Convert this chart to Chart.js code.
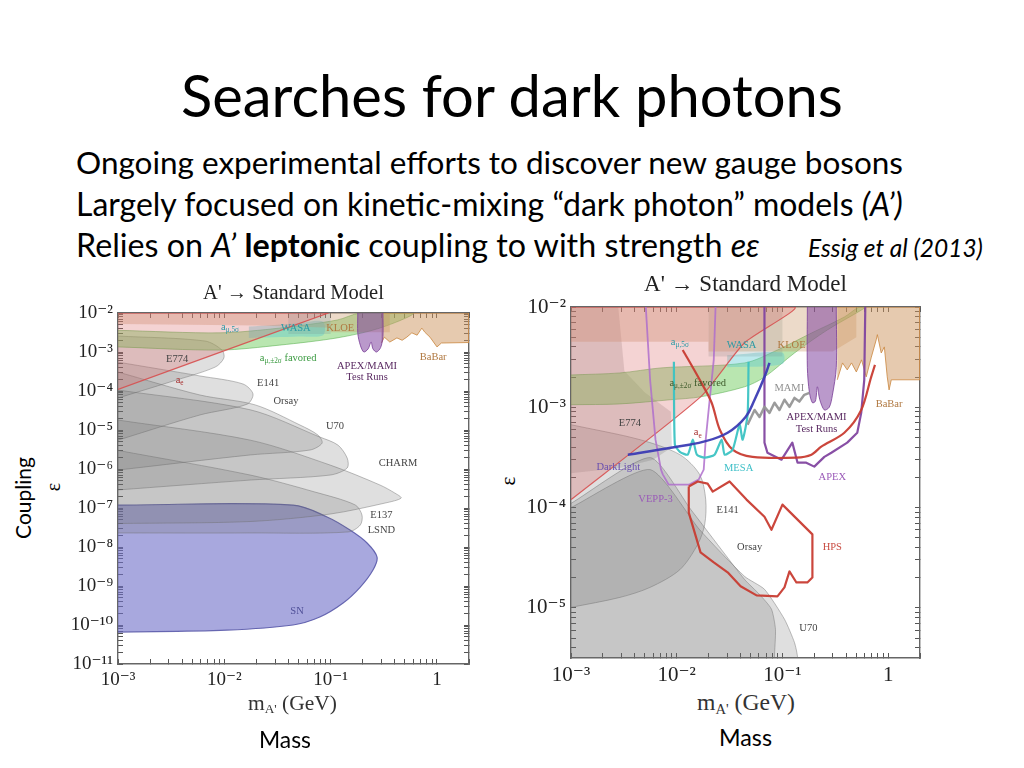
<!DOCTYPE html>
<html>
<head>
<meta charset="utf-8">
<script src="https://cdn.jsdelivr.net/npm/chart.js@4.4.0/dist/chart.umd.min.js"></script>
<style>
  body { margin: 0; width: 1024px; height: 768px; background: #fff; position: relative; overflow: hidden; font-family: Lato, 'Open Sans', sans-serif; color: #000; }
  .t { position: absolute; white-space: nowrap; line-height: 1.2; }
  .ax { position: absolute; white-space: nowrap; line-height: 1.2; font-family: 'Liberation Serif', serif; color: #333; }
  .ax sub { font-size: 0.62em; vertical-align: -0.25em; }
  .rot { position: absolute; white-space: nowrap; transform: translate(-50%, -50%) rotate(-90deg); }
  canvas { position: absolute; }
</style>
</head>
<body>
<div class="t" id="title">Searches for dark photons</div>
<div class="t" id="l1">Ongoing experimental efforts to discover new gauge bosons</div>
<div class="t" id="l2">Largely focused on kinetic-mixing “dark photon” models <i>(A’)</i></div>
<div class="t" id="l3">Relies on <i>A’</i> <b>leptonic</b> coupling to with strength <i>eε</i></div>
<div class="t" id="cite"><i>Essig et al (2013)</i></div>

<div class="rot" style="left:22px; top:498px; font-size:21px;">Coupling</div>
<div class="rot" style="left:53px; top:487px; font-size:20px; font-family:'Liberation Serif',serif;">ε</div>
<div class="rot" style="left:508px; top:481px; font-size:21px; font-family:'Liberation Serif',serif;">ε</div>

<canvas id="leftChart" width="420" height="425" style="left:60px; top:270px;"></canvas>
<canvas id="rightChart" width="420" height="425" style="left:510px; top:262px;"></canvas>

<div class="ax" id="xl">m<sub>A'</sub> (GeV)</div>
<div class="ax" id="xr">m<sub>A'</sub> (GeV)</div>
<div class="t" id="massL">Mass</div>
<div class="t" id="massR">Mass</div>

<script>
// axis ranges (GeV, epsilon)
const leftX = [1e-3, 2];
const leftY = [1e-11, 1e-2];
const rightX = [1e-3, 2];
const rightY = [3.16e-6, 1e-2];

// ---------- left plot: regions as [mass, epsilon] ----------
const L_ae = [[1e-3,1.1e-4],[0.0102,1.1e-3],[0.095,1e-2],[1e-3,1e-2]];
const L_topTan = [[1e-3,1e-2],[0.1,1e-2],[0.1,4.2e-3],[0.02,4.8e-3],[1e-3,5.2e-3]];
const L_kloe = [[0.1,1e-2],[0.36,1e-2],[0.36,3.2e-3],[0.1,3.2e-3]];
const L_wasa = [[0.04,1e-2],[0.1,1e-2],[0.1,2.9e-3],[0.04,2.9e-3]];
const L_babar = [[0.3,1e-2],[2,1e-2],[2,1.75e-3],[1.1,1.7e-3],[1.0,1.35e-3],[0.86,2.4e-3],[0.77,3.2e-3],[0.72,4.1e-3],[0.65,2.7e-3],[0.58,3.1e-3],[0.52,2.4e-3],[0.47,2.0e-3],[0.42,2.3e-3],[0.36,1.8e-3],[0.32,2.4e-3],[0.30,1.7e-3]];
const L_amuFav = [[1e-3,1.35e-3],[9.1e-3,1.12e-3],[0.033,1.5e-3],[0.115,2.3e-3],[0.29,4.1e-3],[0.6,1e-2],[0.19,1e-2],[0.115,6.6e-3],[0.033,4.1e-3],[9.1e-3,3.1e-3],[1e-3,3.6e-3]];
const L_amu5 = [[0.017,4.5e-3],[0.05,5.5e-3],[0.085,6e-3],[0.085,2.7e-3],[0.05,2.5e-3],[0.017,2.3e-3]];
const L_apexTest = [[0.18,1e-2],[0.18,3e-3],[0.19,1.5e-3],[0.205,1.0e-3],[0.225,1.2e-3],[0.24,1.8e-3],[0.25,1.2e-3],[0.27,1.0e-3],[0.295,1.3e-3],[0.31,2.5e-3],[0.31,1e-2]];
const L_e774 = [[1e-3,2.57e-3],[6.6e-3,1.91e-3],[9.5e-3,1.12e-3],[9.9e-3,7.0e-4],[8.2e-3,4.1e-4],[3.08e-3,1.7e-4],[1e-3,6.6e-5]];
const L_e141 = [[1e-3,5.5e-4],[5.9e-3,2.43e-4],[0.015,1.51e-4],[0.0186,8.4e-5],[0.0164,4.6e-5],[5.9e-3,2.43e-5],[1e-3,5.5e-6]];
const L_orsay = [[1e-3,3.07e-4],[5.9e-3,7.9e-5],[0.0195,4.4e-5],[0.0515,1.34e-5],[0.076,7.4e-6],[0.083,4.6e-6],[0.064,3.07e-6],[0.0175,2.29e-6],[1e-3,9.4e-7]];
const L_u70 = [[1e-3,1.06e-4],[0.0175,3.3e-5],[0.079,6.6e-6],[0.117,4.1e-6],[0.143,1.91e-6],[0.143,1.06e-6],[0.099,7.0e-7],[0.0175,5.2e-7],[1e-3,2.9e-7]];
const L_charm = [[1e-3,1.8e-5],[0.0175,5.5e-6],[0.099,1.26e-6],[0.29,3.9e-7],[0.40,2.43e-7],[0.46,1.8e-7],[0.325,1.34e-7],[0.099,7.0e-8],[0.0175,4.5e-8],[1e-3,4e-8]];
const L_e137 = [[1e-3,3.0e-6],[0.0175,7e-7],[0.07,2.6e-7],[0.17,1.2e-7],[0.197,6.6e-8],[0.19,3.66e-8],[0.146,2.43e-8],[0.0175,2.29e-8],[1e-3,2.29e-8]];
const L_sn = [[1e-3,1.19e-7],[0.0443,1.19e-7],[0.0925,5.9e-8],[0.152,2.73e-8],[0.22,1.27e-8],[0.273,5.5e-9],[0.25,2.57e-9],[0.19,9.4e-10],[0.131,3.66e-10],[0.079,1.6e-10],[0.0443,1.0e-10],[0.0106,7.4e-11],[1e-3,6.6e-11]];

// ---------- right plot: regions and projected reaches ----------
const R_ae = [[1e-3,1.2e-4],[0.0168,1.27e-3],[0.0438,4.4e-3],[0.13,1e-2],[1e-3,1e-2]];
const R_topTan = [[1e-3,1e-2],[0.02,1e-2],[0.02,4.5e-3],[1e-3,4.5e-3]];
const R_kloe = [[0.02,1e-2],[0.5,1e-2],[0.5,5e-3],[0.3,3.6e-3],[0.02,3.6e-3]];
const R_wasa = [[0.02,1e-2],[0.1,1e-2],[0.1,3.2e-3],[0.02,3.2e-3]];
const R_babar = [[0.33,1e-2],[2,1e-2],[2,1.88e-3],[1.07,1.88e-3],[1.02,1.49e-3],[0.98,2.01e-3],[0.92,4.0e-3],[0.86,3.48e-3],[0.79,5.3e-3],[0.77,4.7e-3],[0.69,3.11e-3],[0.62,2.01e-3],[0.56,2.97e-3],[0.50,2.25e-3],[0.45,2.77e-3],[0.41,2.36e-3],[0.37,2.77e-3],[0.33,1.88e-3]];
const R_amuFav = [[1e-3,1.06e-3],[2.9e-3,1.08e-3],[8.8e-3,1.19e-3],[0.0168,1.27e-3],[0.0438,1.6e-3],[0.0676,2.0e-3],[0.13,3.48e-3],[0.266,5.9e-3],[0.556,9.3e-3],[0.607,1e-2],[0.53,1e-2],[0.385,7.95e-3],[0.188,5.5e-3],[0.0897,3.73e-3],[0.0438,2.77e-3],[7.1e-3,2.47e-3],[2.9e-3,2.2e-3],[1e-3,2.1e-3]];
const R_amu5 = [[0.03,3.3e-3],[0.1,3.5e-3],[0.1,2.7e-3],[0.03,2.5e-3]];
const R_apexTest = [[0.172,1e-2],[0.172,2.5e-3],[0.18,1.4e-3],[0.192,1.11e-3],[0.205,1.15e-3],[0.214,1.6e-3],[0.225,1.2e-3],[0.249,9.4e-4],[0.277,1.0e-3],[0.296,1.3e-3],[0.323,2.5e-3],[0.323,1e-2]];
const R_e774 = [[1e-3,1e-2],[2.8e-3,1e-2],[3.2e-3,2.3e-3],[5e-3,1.4e-3],[8.8e-3,9e-4],[9e-3,4e-4],[6e-3,3e-4],[3e-3,2.5e-4],[1e-3,2.2e-4]];
const R_e141 = [[1e-3,6.7e-4],[4.5e-3,4.75e-4],[0.0107,3.37e-4],[0.0165,2.13e-4],[0.0188,1.2e-4],[0.0184,6.8e-5],[0.0158,4.3e-5],[0.0107,2.4e-5],[5.6e-3,1.6e-5],[2.9e-3,1.27e-5],[1e-3,1.01e-5]];
const R_orsay = [[1e-3,1.1e-4],[5.6e-3,3.15e-4],[0.0136,9.55e-5],[0.0438,1.92e-5],[0.0607,1.36e-5],[0.0787,9.7e-6],[0.0859,6.1e-6],[0.084,3.2e-6],[0.084,1e-6],[1e-3,1e-6]];
const R_u70 = [[1e-3,1.0e-4],[5.6e-3,2.39e-4],[0.0165,6.0e-5],[0.0438,2.06e-5],[0.0676,1.53e-5],[0.1045,7.7e-6],[0.13,4.5e-6],[0.139,3.2e-6],[0.139,1e-6],[1e-3,1e-6]];
const R_mami = [[0.0468,6.7e-4],[0.0545,9.4e-4],[0.0607,8.0e-4],[0.0676,1.01e-3],[0.0754,8.8e-4],[0.0841,1.11e-3],[0.0937,9.4e-4],[0.1045,1.19e-3],[0.1165,1.01e-3],[0.13,1.24e-3],[0.1445,1.14e-3],[0.161,1.33e-3],[0.18,1.39e-3]];
const R_darkLight = [[3.45e-3,3.37e-4],[8.8e-3,3.95e-4],[0.018,4.54e-4],[0.0303,5.57e-4],[0.0448,8.0e-4],[0.0545,1.19e-3],[0.0676,2.0e-3],[0.0754,2.77e-3]];
const R_mesa = [[9.4e-3,2.84e-3],[9.6e-3,4.24e-4],[0.0107,3.6e-4],[0.0127,3.37e-4],[0.0142,4.75e-4],[0.0155,3.37e-4],[0.0184,3.15e-4],[0.0228,3.37e-4],[0.0266,4.75e-4],[0.0284,3.37e-4],[0.0338,3.78e-4],[0.0393,6.7e-4],[0.042,4.75e-4],[0.0468,8.4e-4],[0.0478,2.84e-3]];
const R_hpsUpper = [[0.0114,3.73e-3],[0.0165,1.88e-3],[0.0214,1.11e-3],[0.0255,6.0e-4],[0.0338,3.78e-4],[0.0521,3.2e-4],[0.1355,3.15e-4],[0.188,3.37e-4],[0.233,4.05e-4],[0.385,5.57e-4],[0.556,9.4e-4],[0.69,2.0e-3],[0.75,2.65e-3]];
const R_hpsLower = [[0.013,1.62e-4],[0.0158,1.82e-4],[0.0196,1.73e-4],[0.0219,1.44e-4],[0.0316,1.82e-4],[0.0457,1.2e-4],[0.0676,8.1e-5],[0.0787,6.0e-5],[0.1,1.07e-4],[0.192,5.4e-5],[0.192,2.01e-5],[0.172,1.79e-5],[0.1355,1.79e-5],[0.1165,2.31e-5],[0.1045,1.6e-5],[0.0897,1.3e-5],[0.0569,1.33e-5],[0.0402,1.64e-5],[0.0303,2.26e-5],[0.0224,2.84e-5],[0.0168,3.57e-5],[0.013,8.9e-5],[0.013,1.62e-4]];
const R_apex = [[0.0676,1e-2],[0.0676,4.44e-4],[0.0721,3.52e-4],[0.098,3.0e-4],[0.124,4.44e-4],[0.139,2.8e-4],[0.168,2.8e-4],[0.2,2.56e-4],[0.249,3.2e-4],[0.29,3.52e-4],[0.41,4.44e-4],[0.51,5.57e-4],[0.556,8.8e-4],[0.594,1.88e-3],[0.607,9.3e-3],[0.607,1e-2]];
const R_vepp3 = [[5.1e-3,1e-2],[5.6e-3,1.88e-3],[6.3e-3,4.75e-4],[7.1e-3,2.39e-4],[7.4e-3,2.13e-4],[8.4e-3,1.69e-4],[0.013,1.69e-4],[0.0161,1.9e-4],[0.018,2.39e-4],[0.0188,4.75e-4],[0.0205,1.19e-3],[0.0224,2.97e-3],[0.0233,1e-2]];

// region labels: text, mass, epsilon, colour kind
const leftLabels = [
  {text:'a', sub:'μ,5σ', m:0.0113, eps:4.4e-3, kind:'teal'},
  {text:'WASA', m:0.047, eps:4.1e-3, kind:'teal'},
  {text:'KLOE', m:0.123, eps:4.1e-3, kind:'brown'},
  {text:'a', sub:'μ,±2σ', after:' favored', m:0.0398, eps:7e-4, kind:'green'},
  {text:'E774', m:3.6e-3, eps:6.6e-4, kind:'gray'},
  {text:'a', sub:'e', m:3.8e-3, eps:1.9e-4, kind:'red'},
  {text:'E141', m:0.0258, eps:1.6e-4, kind:'gray'},
  {text:'Orsay', m:0.038, eps:5.5e-5, kind:'gray'},
  {text:'U70', m:0.11, eps:1.26e-5, kind:'gray'},
  {text:'APEX/MAMI', m:0.22, eps:4.4e-4, kind:'purple'},
  {text:'Test Runs', m:0.22, eps:2.3e-4, kind:'purple'},
  {text:'BaBar', m:0.92, eps:7.4e-4, kind:'brown'},
  {text:'CHARM', m:0.43, eps:1.43e-6, kind:'gray'},
  {text:'E137', m:0.3, eps:6.6e-8, kind:'gray'},
  {text:'LSND', m:0.3, eps:2.7e-8, kind:'gray'},
  {text:'SN', m:0.0483, eps:2.3e-10, kind:'blue'}
];
const rightLabels = [
  {text:'a', sub:'μ,5σ', m:0.0107, eps:4.5e-3, kind:'teal'},
  {text:'WASA', m:0.041, eps:4.2e-3, kind:'teal'},
  {text:'KLOE', m:0.122, eps:4.2e-3, kind:'brown'},
  {text:'a', sub:'μ,±2σ', after:' favored', m:0.0158, eps:1.75e-3, kind:'dkgreen'},
  {text:'MAMI', m:0.116, eps:1.56e-3, kind:'mgray'},
  {text:'BaBar', m:1.02, eps:1.06e-3, kind:'brown'},
  {text:'E774', m:3.6e-3, eps:7e-4, kind:'gray'},
  {text:'a', sub:'e', m:0.0158, eps:5.6e-4, kind:'red'},
  {text:'APEX/MAMI', m:0.21, eps:7.9e-4, kind:'purple'},
  {text:'Test Runs', m:0.21, eps:6e-4, kind:'purple'},
  {text:'DarkLight', m:2.8e-3, eps:2.5e-4, kind:'dlblue'},
  {text:'MESA', m:0.0385, eps:2.44e-4, kind:'cyan'},
  {text:'APEX', m:0.296, eps:2.0e-4, kind:'violet'},
  {text:'VEPP-3', m:6.3e-3, eps:1.2e-4, kind:'violet'},
  {text:'E141', m:0.0303, eps:9.5e-5, kind:'gray'},
  {text:'Orsay', m:0.0489, eps:4.0e-5, kind:'gray'},
  {text:'HPS', m:0.296, eps:4.0e-5, kind:'hps'},
  {text:'U70', m:0.176, eps:6.25e-6, kind:'gray'}
];

const labelColors = {
  gray: '#444', teal: '#2a9aa5', brown: '#b07840', green: '#3a9a40', dkgreen: '#3d5a2a',
  purple: '#5a2a62', violet: '#9a5ab8', blue: '#505098', dlblue: '#6a50b0', red: '#a83030',
  hps: '#c84a40', cyan: '#40c0c8', mgray: '#909090'
};

const GRAY = 'rgba(110,110,110,0.22)';
const GRAY_EDGE = 'rgba(110,110,110,0.45)';
const NONE = 'rgba(0,0,0,0)';

function pts(arr) { return arr.map(([x, y]) => ({ x, y })); }

function region(arr, fillColor, edge, width, tension, order) {
  return { data: pts(arr), fill: 'shape', backgroundColor: fillColor, borderColor: edge, borderWidth: width,
           tension: tension, pointRadius: 0, pointHoverRadius: 0, order: order };
}
function curve(arr, color, width, tension, order) {
  return { data: pts(arr), fill: false, borderColor: color, borderWidth: width, tension: tension,
           pointRadius: 0, pointHoverRadius: 0, order: order, borderJoinStyle: 'round' };
}

const supDigits = { '-': '⁻', '0': '⁰', '1': '¹', '2': '²', '3': '³', '4': '⁴', '5': '⁵', '6': '⁶', '7': '⁷', '8': '⁸', '9': '⁹' };
function decadeLabel(v) {
  const e = Math.log10(v);
  if (Math.abs(e - Math.round(e)) > 1e-6) return '';
  const n = Math.round(e);
  if (n === 0) return '1';
  if (n === 1) return '10';
  return '10' + String(n).split('').map(c => supDigits[c]).join('');
}
function logTicks(min, max) {
  const out = [];
  for (let e = Math.floor(Math.log10(min)); e <= Math.ceil(Math.log10(max)); e++) {
    for (let k = 1; k <= 9; k++) {
      const v = k * Math.pow(10, e);
      if (v >= min * 0.999 && v <= max * 1.001) out.push({ value: v });
    }
  }
  return out;
}

function buildScales(xr, yr, s) {
  const grid = { drawOnChartArea: false, drawTicks: true, tickLength: -5, color: '#555', tickColor: '#555', tickWidth: 1 };
  const border = { display: true, color: '#666', width: 1.4 };
  const tickFont = { family: "'Liberation Serif', 'DejaVu Serif', serif", size: s.font };
  const axis = (pos, r, labels, fit) => ({
    type: 'logarithmic', position: pos, min: r[0], max: r[1], z: 1, grid: grid, border: border,
    afterBuildTicks: sc => { sc.ticks = logTicks(r[0], r[1]); },
    afterFit: fit,
    ticks: labels
      ? { display: true, autoSkip: false, maxRotation: 0, padding: s.pad, color: '#222', font: tickFont, callback: v => decadeLabel(v) }
      : { display: false }
  });
  return {
    x: axis('bottom', xr, true, sc => { sc.height = s.xh; }),
    x2: axis('top', xr, false, sc => { sc.height = 0; }),
    y: axis('left', yr, true, sc => { sc.width = s.yw; }),
    y2: axis('right', yr, false, sc => { sc.width = 0; })
  };
}

function labelPlugin(labels, size) {
  return {
    id: 'regionLabels',
    afterDatasetsDraw(chart) {
      const { ctx, scales } = chart;
      const main = size + "px 'Liberation Serif', serif";
      const small = (size * 0.7).toFixed(1) + "px 'Liberation Serif', serif";
      ctx.save();
      ctx.textBaseline = 'middle';
      for (const lb of labels) {
        const px = scales.x.getPixelForValue(lb.m);
        const py = scales.y.getPixelForValue(lb.eps);
        ctx.fillStyle = labelColors[lb.kind];
        ctx.font = main;
        if (!lb.sub) {
          ctx.textAlign = 'center';
          ctx.fillText(lb.text, px, py);
          continue;
        }
        const w1 = ctx.measureText(lb.text).width;
        const w3 = lb.after ? ctx.measureText(lb.after).width : 0;
        ctx.font = small;
        const w2 = ctx.measureText(lb.sub).width;
        let cx = px - (w1 + w2 + w3) / 2;
        ctx.textAlign = 'left';
        ctx.font = main; ctx.fillText(lb.text, cx, py); cx += w1;
        ctx.font = small; ctx.fillText(lb.sub, cx, py + size * 0.3); cx += w2;
        if (lb.after) { ctx.font = main; ctx.fillText(lb.after, cx, py); }
      }
      ctx.restore();
    }
  };
}

function options(xr, yr, s) {
  return {
    responsive: false, animation: false, devicePixelRatio: 1, events: [],
    layout: { padding: { left: 0, right: s.padRight, top: 0, bottom: 0 } },
    plugins: {
      legend: { display: false }, tooltip: { enabled: false },
      title: { display: true, text: "A' → Standard Model", fullSize: false, color: '#222',
               font: { family: "'Liberation Serif', serif", size: s.titleSize, weight: 'normal', lineHeight: 1.2 },
               padding: { top: s.titleTop, bottom: s.titleBottom } }
    },
    scales: buildScales(xr, yr, s)
  };
}

new Chart(document.getElementById('leftChart'), {
  type: 'line',
  data: { datasets: [
    region(L_apexTest, 'rgba(130,70,160,0.55)', 'rgba(120,60,150,0.8)', 1, 0.3, 2),
    region(L_ae, 'rgba(220,110,110,0.30)', 'rgba(215,80,80,0.9)', 1.2, 0, 3),
    region(L_babar, 'rgba(205,150,95,0.50)', 'rgba(205,140,70,0.85)', 1, 0, 4),
    region(L_kloe, 'rgba(200,150,100,0.35)', NONE, 0, 0, 5),
    region(L_wasa, 'rgba(120,150,150,0.25)', NONE, 0, 0, 5),
    region(L_topTan, 'rgba(200,150,110,0.35)', NONE, 0, 0, 5),
    region(L_amu5, 'rgba(90,200,210,0.40)', NONE, 0, 0.3, 6),
    region(L_amuFav, 'rgba(100,200,80,0.45)', 'rgba(80,170,70,0.5)', 1, 0.3, 7),
    region(L_e774, GRAY, GRAY_EDGE, 1, 0.3, 8),
    region(L_e141, GRAY, GRAY_EDGE, 1, 0.3, 8),
    region(L_orsay, GRAY, GRAY_EDGE, 1, 0.3, 8),
    region(L_u70, GRAY, GRAY_EDGE, 1, 0.3, 8),
    region(L_charm, GRAY, GRAY_EDGE, 1, 0.3, 8),
    region(L_e137, GRAY, GRAY_EDGE, 1, 0.3, 8),
    region(L_sn, 'rgba(110,110,200,0.6)', 'rgba(90,90,170,0.9)', 1.2, 0.35, 9)
  ] },
  options: options(leftX, leftY, { font: 19, pad: 10, xh: 31, yw: 58, padRight: 11, titleSize: 20.5, titleTop: 11, titleBottom: 7.4 }),
  plugins: [labelPlugin(leftLabels, 10.5)]
});

new Chart(document.getElementById('rightChart'), {
  type: 'line',
  data: { datasets: [
    curve(R_mami, 'rgba(150,150,150,0.95)', 2.5, 0, 0),
    curve(R_darkLight, 'rgba(60,60,180,0.95)', 2.5, 0.4, 0),
    curve(R_mesa, 'rgba(60,195,195,0.95)', 2.2, 0.2, 0),
    curve(R_hpsUpper, 'rgba(200,60,50,0.95)', 2.2, 0.3, 0),
    curve(R_hpsLower, 'rgba(200,60,50,0.95)', 2.2, 0, 0),
    curve(R_apex, 'rgba(130,70,160,0.95)', 2.2, 0, 0),
    curve(R_vepp3, 'rgba(175,110,205,0.85)', 1.8, 0, 0),
    region(R_apexTest, 'rgba(130,70,160,0.55)', 'rgba(120,60,150,0.8)', 1, 0.3, 2),
    region(R_ae, 'rgba(220,110,110,0.30)', 'rgba(215,80,80,0.9)', 1.2, 0.2, 3),
    region(R_babar, 'rgba(205,150,95,0.50)', 'rgba(205,140,70,0.85)', 1, 0, 4),
    region(R_kloe, 'rgba(200,150,100,0.35)', NONE, 0, 0, 5),
    region(R_wasa, 'rgba(120,150,150,0.25)', NONE, 0, 0, 5),
    region(R_topTan, 'rgba(200,150,110,0.35)', NONE, 0, 0, 5),
    region(R_amu5, 'rgba(90,200,210,0.40)', NONE, 0, 0.3, 6),
    region(R_amuFav, 'rgba(100,200,80,0.45)', 'rgba(80,170,70,0.5)', 1, 0.3, 7),
    region(R_e774, GRAY, NONE, 0, 0, 8),
    region(R_e141, GRAY, GRAY_EDGE, 1, 0.3, 8),
    region(R_orsay, GRAY, GRAY_EDGE, 1, 0.2, 8),
    region(R_u70, GRAY, GRAY_EDGE, 1, 0.2, 8)
  ] },
  options: options(rightX, rightY, { font: 21, pad: 10, xh: 29, yw: 61, padRight: 9, titleSize: 23, titleTop: 9, titleBottom: 8.4 }),
  plugins: [labelPlugin(rightLabels, 10.5)]
});

// fit slide text to the reference boxes: [id, left, width, baseline]
function place(id, left, width, baseline) {
  const el = document.getElementById(id);
  el.style.fontSize = '40px';
  el.style.left = left + 'px';
  el.style.top = '0px';
  const w = el.getBoundingClientRect().width;
  el.style.fontSize = (40 * width / w).toFixed(2) + 'px';
  const mk = document.createElement('span');
  mk.style.cssText = 'display:inline-block;width:0;height:0;vertical-align:baseline';
  el.appendChild(mk);
  const b = mk.getBoundingClientRect().top - el.getBoundingClientRect().top;
  el.style.top = (baseline - b) + 'px';
}
place('title', 181, 662, 117);
place('l1', 76, 827, 174);
place('l2', 76, 827, 216);
place('l3', 76, 684, 257);
place('cite', 808, 175, 257);
place('xl', 248, 89, 710);
place('xr', 697, 98, 710);
place('massL', 259, 52, 748);
place('massR', 719, 53, 746);
</script>
</body>
</html>
